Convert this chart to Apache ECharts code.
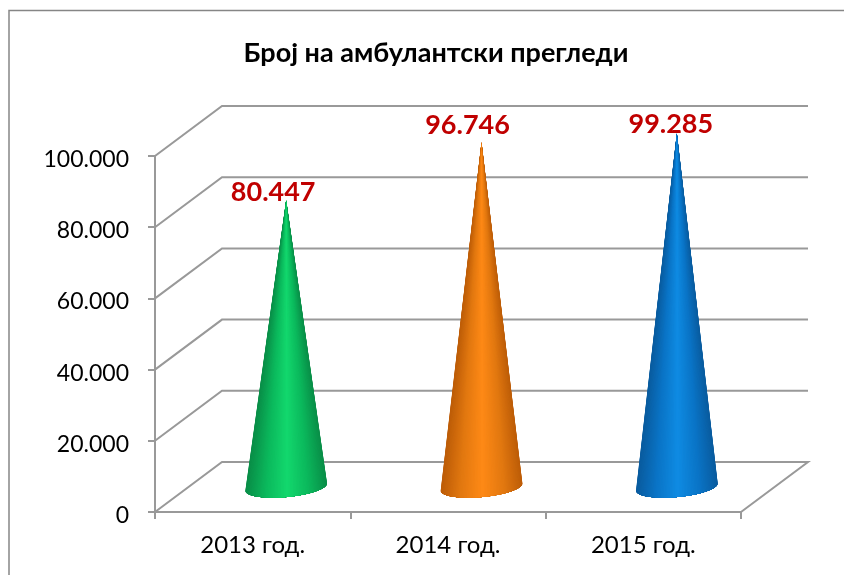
<!DOCTYPE html>
<html>
<head>
<meta charset="utf-8">
<style>html,body{margin:0;padding:0;background:#fff;overflow:hidden}#chart{width:844px;height:575px}</style>
<script src="https://cdn.jsdelivr.net/npm/echarts@6/dist/echarts.min.js"></script>
</head>
<body>
<div id="chart"></div>
<script>
const chartTitle = 'Број на амбулантски прегледи';
const categories = ['2013 год.', '2014 год.', '2015 год.'];
const visits = [80447, 96746, 99285];
const yTicks = [0, 20000, 40000, 60000, 80000, 100000];

// per-cone colours, edge -> highlight
const coneEdge = ['#0a8e48', '#bd5d08', '#0a5c9f'];
const coneBody = ['#0bb85c', '#e27810', '#0a74c6'];
const coneMid = ['#13d96e', '#ff8a16', '#0f8ce4'];
// label nudges measured against the tip of each cone
const labelShift = [[-13, -8], [-14, -17], [-6, -9]];

// fake 3d depth of the plot box
const depthX = 67;
const depthY = -50;
const baseRx = 41;
const baseRy = 10;
const baseTilt = -0.093;
const gridColor = '#999999';
const fontName = 'Lato';

const chart = echarts.init(document.getElementById('chart'));

const formatThousands = v => String(v).replace(/\B(?=(\d{3})+$)/g, '.');

const hexMix = (a, b, t) => {
  const pa = parseInt(a.slice(1), 16), pb = parseInt(b.slice(1), 16);
  const ch = s => Math.round(((pa >> s) & 255) * (1 - t) + ((pb >> s) & 255) * t);
  return 'rgb(' + ch(16) + ',' + ch(8) + ',' + ch(0) + ')';
};

const renderWall = (params, api) => {
  const v = api.value(1);
  const y = api.coord([0, v])[1];
  const rect = params.coordSys;
  const points = [[rect.x, y], [rect.x + depthX, y + depthY], [rect.x + rect.width + depthX, y + depthY]];
  if (v === 0) points.push([rect.x + rect.width, y]);
  return {
    type: 'polyline',
    shape: { points: points },
    style: { stroke: gridColor, lineWidth: 2, fill: null }
  };
};

const renderCone = (params, api) => {
  const i = api.value(0);
  const top = api.coord([i, api.value(1)]);
  const bottom = api.coord([i, 0]);
  const tipX = top[0] + depthX / 2;
  const tipY = top[1] + depthY / 2;
  const cx = bottom[0] + depthX / 2;
  const cy = bottom[1] + depthY / 2;
  const cosT = Math.cos(baseTilt), sinT = Math.sin(baseTilt);
  const children = [];
  const steps = 40;
  // nested opaque fans from the tip, outer edge first, so there are no seams
  for (let s = 0; s < steps; s++) {
    const slice = [[tipX, tipY]];
    const from = Math.PI * (1 - (s / steps) * 0.5);
    const to = Math.PI * (s / steps) * 0.5;
    for (let k = 0; k <= 48; k++) {
      const a = from + (to - from) * k / 48;
      const ex = baseRx * Math.cos(a), ey = baseRy * Math.sin(a);
      slice.push([cx + ex * cosT - ey * sinT, cy + ex * sinT + ey * cosT]);
    }
    // pos runs 0 at the silhouette to 1 on the centre line, linear in screen x
    const pos = 1 - Math.cos((s / steps) * Math.PI / 2);
    const fill = pos < 0.45
      ? hexMix(coneEdge[i], coneBody[i], pos / 0.45)
      : hexMix(coneBody[i], coneMid[i], (pos - 0.45) / 0.55);
    children.push({
      type: 'polygon',
      shape: { points: slice },
      style: { fill: fill }
    });
  }
  children.push({
    type: 'text',
    x: tipX + labelShift[i][0],
    y: tipY + labelShift[i][1],
    style: {
      text: formatThousands(api.value(1)),
      fill: '#c00000',
      font: 'bold 27px ' + fontName,
      align: 'center',
      verticalAlign: 'middle'
    }
  });
  return { type: 'group', children: children };
};

chart.setOption({
  animation: false,
  backgroundColor: '#fff',
  title: {
    text: chartTitle,
    left: 431,
    top: 35,
    textAlign: 'center',
    textStyle: { fontFamily: fontName, fontWeight: 'bold', fontSize: 27, color: '#000' }
  },
  graphic: [{
    type: 'rect',
    shape: { x: 9, y: 10.5, width: 900, height: 700 },
    style: { fill: null, stroke: '#868686', lineWidth: 1.5 },
    silent: true
  }],
  grid: { left: 155, right: 103, top: 156, bottom: 63 },
  xAxis: {
    type: 'category',
    data: categories,
    boundaryGap: true,
    axisLine: { lineStyle: { color: gridColor, width: 2 } },
    axisTick: { show: true, alignWithLabel: false, length: 7, lineStyle: { color: gridColor, width: 2 } },
    axisLabel: { color: '#000', fontFamily: fontName, fontSize: 24, margin: 21 }
  },
  yAxis: {
    type: 'value',
    min: 0,
    max: 100000,
    interval: 20000,
    axisLine: { show: true, lineStyle: { color: gridColor, width: 2 } },
    axisTick: { show: true, length: 7, lineStyle: { color: gridColor, width: 2 } },
    splitLine: { show: false },
    axisLabel: { color: '#000', fontFamily: fontName, fontSize: 23, margin: 26, verticalAlign: 'top', lineHeight: 7, formatter: formatThousands }
  },
  series: [
    {
      type: 'custom',
      renderItem: renderWall,
      data: yTicks.map(v => [0, v]),
      silent: true,
      z: 1
    },
    {
      type: 'custom',
      renderItem: renderCone,
      data: visits.map((v, i) => [i, v]),
      silent: true,
      z: 3
    }
  ]
});
</script>
</body>
</html>
